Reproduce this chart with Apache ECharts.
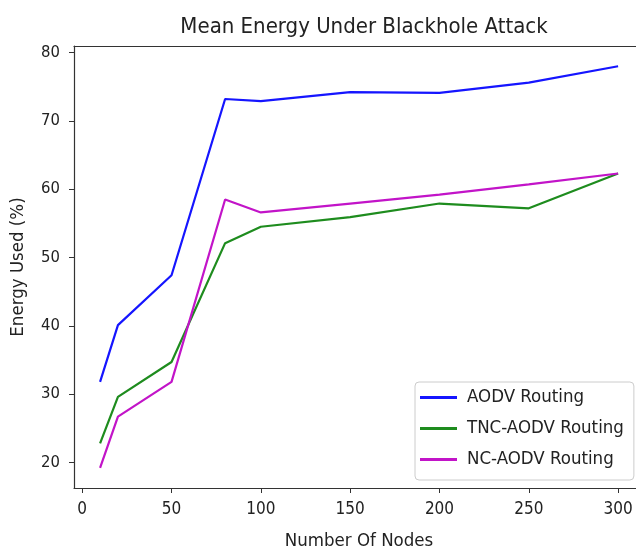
<!DOCTYPE html>
<html lang="en">
<head>
    <meta charset="UTF-8">
    <title>Mean Energy Under Blackhole Attack</title>
    <script src="https://cdn.jsdelivr.net/npm/echarts@6.0.0/dist/echarts.min.js"></script>
</head>
<body style="margin:0">
<div id="container" style="width: 636px; height: 552px"></div>

<script type="text/javascript">
    var nodes = [10, 20, 50, 80, 100, 150, 200, 250, 300];
    var aodv = [31.8, 40.1, 47.4, 73.2, 72.9, 74.2, 74.1, 75.6, 78.0];
    var tncAodv = [22.8, 29.6, 34.7, 52.1, 54.5, 55.9, 57.9, 57.2, 62.3];
    var ncAodv = [19.2, 26.7, 31.8, 58.5, 56.6, 57.9, 59.2, 60.7, 62.3];
    var xTicks = [0, 50, 100, 150, 200, 250, 300];
    var yTicks = [20, 30, 40, 50, 60, 70, 80];

    function pairs(ys) {
        return nodes.map(function (x, i) { return [x, ys[i]]; });
    }

    var dom = document.getElementById('container');
    var myChart = echarts.init(dom, null, { renderer: 'canvas' });
    var font = '"DejaVu Sans Condensed", "DejaVu Sans", sans-serif';
    var spine = { show: true, onZero: false, lineStyle: { color: '#333', width: 1.2 } };

    var option = {
        animation: false,
        backgroundColor: '#fff',
        title: {
            text: 'Mean Energy Under Blackhole Attack',
            left: 359,
            textAlign: 'center',
            top: 11,
            textStyle: { fontFamily: font, fontSize: 22, fontWeight: 'normal', color: '#222' }
        },
        grid: {
            left: 74, top: 46, width: 570, height: 442,
            outerBoundsMode: 'none'
        },
        legend: {
            orient: 'vertical',
            left: 415, top: 382,
            padding: [6, 10, 11, 5],
            itemWidth: 37, itemHeight: 3, itemGap: 12,
            icon: 'rect',
            borderColor: '#ccc', borderWidth: 1, borderRadius: 4,
            backgroundColor: 'rgba(255,255,255,0.85)',
            textStyle: { fontFamily: font, fontSize: 18.5, color: '#222', padding: [0, 0, 0, 5] }
        },
        xAxis: [
            {
                type: 'value',
                min: -4.6, max: 314.5,
                name: 'Number Of Nodes',
                nameLocation: 'middle',
                nameGap: 44,
                nameTextStyle: { fontFamily: font, fontSize: 18.5, color: '#222' },
                splitLine: { show: false },
                axisLine: spine,
                axisTick: { show: true, length: 5, customValues: xTicks, lineStyle: { color: '#333' } },
                axisLabel: { customValues: xTicks, margin: 13, fontFamily: font, fontSize: 17, color: '#222' }
            },
            {
                // top spine only
                type: 'value', position: 'top',
                min: -4.6, max: 314.5,
                splitLine: { show: false },
                axisLine: spine,
                axisTick: { show: false },
                axisLabel: { show: false }
            }
        ],
        yAxis: {
            type: 'value',
            min: 16.26, max: 80.96,
            name: 'Energy Used (%)',
            nameLocation: 'middle',
            nameGap: 46,
            nameTextStyle: { fontFamily: font, fontSize: 18.5, color: '#222' },
            splitLine: { show: false },
            axisLine: spine,
            axisTick: { show: true, length: 5, customValues: yTicks, lineStyle: { color: '#333' } },
            axisLabel: { customValues: yTicks, margin: 14, fontFamily: font, fontSize: 16.5, color: '#222' }
        },
        series: [
            {
                name: 'AODV Routing', type: 'line', symbol: 'none',
                data: pairs(aodv),
                color: '#1515ff',
                lineStyle: { width: 2.2, color: '#1515ff' }
            },
            {
                name: 'TNC-AODV Routing', type: 'line', symbol: 'none',
                data: pairs(tncAodv),
                color: '#1e8c1e',
                lineStyle: { width: 2.2, color: '#1e8c1e' }
            },
            {
                name: 'NC-AODV Routing', type: 'line', symbol: 'none',
                data: pairs(ncAodv),
                color: '#c214c8',
                lineStyle: { width: 2.2, color: '#c214c8' }
            }
        ]
    };

    myChart.setOption(option);
    window.addEventListener('resize', myChart.resize);
</script>
</body>
</html>
